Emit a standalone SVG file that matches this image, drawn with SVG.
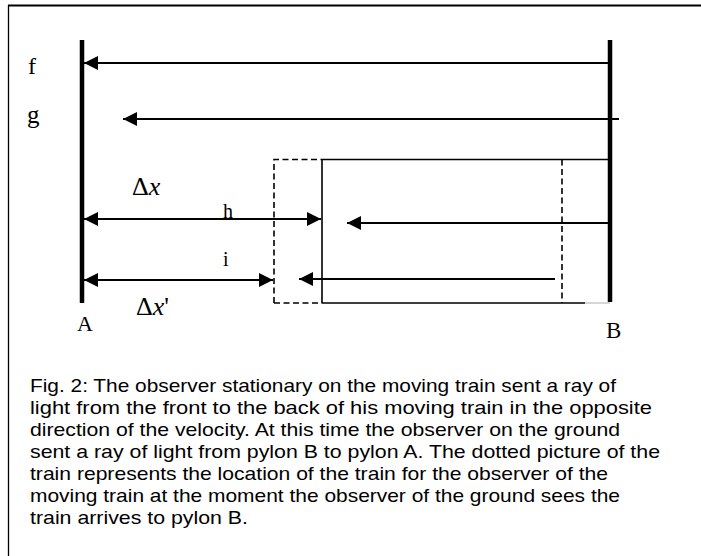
<svg xmlns="http://www.w3.org/2000/svg" width="701" height="556" viewBox="0 0 701 556">
<defs>
<marker id="ah" viewBox="0 0 14 14" refX="14" refY="7" markerWidth="14" markerHeight="14" markerUnits="userSpaceOnUse" orient="auto-start-reverse">
<path d="M0,0 L14,7 L0,14 Z" fill="#000"/>
</marker>
<style>
.pylon{stroke:#000;stroke-width:4.5;fill:none}
.ray{stroke:#000;stroke-width:2;fill:none}
.train{stroke:#000;stroke-width:1.6;fill:none}
.dash{stroke:#000;stroke-width:1.6;fill:none;stroke-dasharray:6 3.5}
.lbl{font-family:"Liberation Serif","Times New Roman",serif;fill:#000}
.cap{font-family:"Liberation Sans",Arial,sans-serif;font-size:18.5px;fill:#000}
</style>
</defs>
<rect width="701" height="556" fill="#fff"/>
<g id="frame">
<line x1="8" y1="5.5" x2="701" y2="5.5" stroke="#000" stroke-width="2"/>
<line x1="8.5" y1="5" x2="8.5" y2="556" stroke="#000" stroke-width="1.3"/>
</g>
<g id="pylonA"><line class="pylon" x1="82" y1="40" x2="82" y2="303"/><text class="lbl" x="77" y="331" style="font-size:22px">A</text></g>
<g id="pylonB"><line class="pylon" x1="610" y1="40" x2="610" y2="302"/><text class="lbl" x="606" y="338" style="font-size:23px">B</text></g>
<g id="train">
<path class="train" d="M322,159.5 H610 M322,159.5 V303 M322,303 H585"/>
<line x1="585" y1="303" x2="610" y2="303" stroke="#bbb" stroke-width="1.2"/>
</g>
<g id="train-dotted">
<path class="dash" d="M274,303 V159.5 H322 M562,159.5 V303 M274,303 H322"/>
</g>
<g id="labels">
<text class="lbl" x="28" y="74" style="font-size:24px">f</text>
<text class="lbl" x="27" y="123" style="font-size:25px">g</text>
<text class="lbl" x="132" y="195" style="font-size:26px">Δ<tspan font-style="italic">x</tspan></text>
<text class="lbl" x="223" y="218" style="font-size:20px">h</text>
<text class="lbl" x="223" y="266" style="font-size:20px">i</text>
<text class="lbl" x="136" y="315" style="font-size:26px">Δ<tspan font-style="italic">x</tspan>'</text>
</g>
<g id="connectors">
<line class="ray" x1="610" y1="63" x2="84" y2="63" marker-end="url(#ah)"/>
<line class="ray" x1="619" y1="119" x2="123" y2="119" marker-end="url(#ah)"/>
<line class="ray" x1="84" y1="219" x2="321" y2="219" marker-start="url(#ah)" marker-end="url(#ah)"/>
<line class="ray" x1="609" y1="223" x2="347" y2="223" marker-end="url(#ah)"/>
<line class="ray" x1="84" y1="280" x2="273" y2="280" marker-start="url(#ah)" marker-end="url(#ah)"/>
<line class="ray" x1="555" y1="279" x2="299" y2="279" marker-end="url(#ah)"/>
</g>
<g id="caption">
<text class="cap" x="30" y="392" textLength="586" lengthAdjust="spacingAndGlyphs">Fig. 2: The observer stationary on the moving train sent a ray of</text>
<text class="cap" x="30" y="414" textLength="622" lengthAdjust="spacingAndGlyphs">light from the front to the back of his moving train in the opposite</text>
<text class="cap" x="30" y="436" textLength="590" lengthAdjust="spacingAndGlyphs">direction of the velocity. At this time the observer on the ground</text>
<text class="cap" x="30" y="458" textLength="630" lengthAdjust="spacingAndGlyphs">sent a ray of light from pylon B to pylon A. The dotted picture of the</text>
<text class="cap" x="30" y="480" textLength="578" lengthAdjust="spacingAndGlyphs">train represents the location of the train for the observer of the</text>
<text class="cap" x="30" y="502" textLength="590" lengthAdjust="spacingAndGlyphs">moving train at the moment the observer of the ground sees the</text>
<text class="cap" x="30" y="524" textLength="218" lengthAdjust="spacingAndGlyphs">train arrives to pylon B.</text>
</g>
</svg>
